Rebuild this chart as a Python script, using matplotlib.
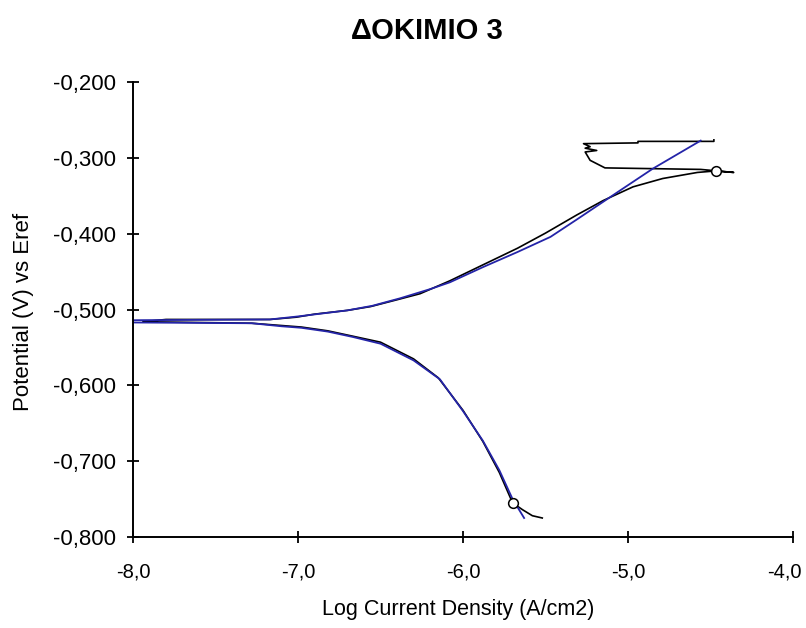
import matplotlib.pyplot as plt
import matplotlib.transforms as mtransforms
from matplotlib.ticker import FuncFormatter

plt.rcParams['font.family'] = ['Liberation Sans', 'DejaVu Sans']

# measured curve (black): cathodic branch from its lower end up to Ecorr,
# then anodic branch out to the right, then the small loop at the top
cath_logi = [-5.52, -5.58, -5.64, -5.70, -5.78, -5.88, -6.00, -6.15, -6.30,
             -6.50, -6.67, -6.82, -6.98, -7.10, -7.28, -7.94]
cath_e = [-0.775, -0.772, -0.764, -0.755, -0.715, -0.674, -0.633, -0.590, -0.565,
          -0.543, -0.535, -0.528, -0.523, -0.521, -0.518, -0.516]
anod_logi = [-7.80, -7.17, -7.01, -6.90, -6.70, -6.56, -6.40, -6.26, -6.08,
             -5.88, -5.67, -5.50, -5.31, -5.15, -4.97, -4.79, -4.58, -4.47, -4.36]
anod_e = [-0.513, -0.513, -0.510, -0.506, -0.501, -0.496, -0.487, -0.479, -0.462,
          -0.441, -0.419, -0.399, -0.375, -0.356, -0.338, -0.327, -0.319, -0.317, -0.319]
loop_logi = [-4.56, -5.14, -5.23, -5.26, -5.19, -5.26, -5.23, -5.27, -4.94, -4.94, -4.48, -4.48]
loop_e = [-0.315, -0.313, -0.303, -0.292, -0.290, -0.287, -0.285, -0.281, -0.280, -0.278, -0.278, -0.276]

# fitted curve (blue)
fit_c_logi = [-8.0, -7.28, -7.10, -6.98, -6.82, -6.67, -6.50, -6.30, -6.14,
              -6.00, -5.88, -5.78, -5.70, -5.63]
fit_c_e = [-0.517, -0.518, -0.522, -0.524, -0.529, -0.536, -0.545, -0.567, -0.592,
           -0.634, -0.673, -0.712, -0.750, -0.775]
fit_a_logi = [-8.0, -7.17, -7.00, -6.85, -6.70, -6.55, -6.38, -6.20, -6.08,
              -5.88, -5.67, -5.47, -5.31, -5.05, -4.85, -4.56]
fit_a_e = [-0.514, -0.513, -0.509, -0.505, -0.501, -0.495, -0.485, -0.473, -0.464,
           -0.444, -0.424, -0.404, -0.381, -0.343, -0.314, -0.277]

# open circle markers
mark_logi = [-5.70, -4.47]
mark_e = [-0.755, -0.317]

x_ticks = [-8, -7, -6, -5, -4]
y_ticks = [-0.8, -0.7, -0.6, -0.5, -0.4, -0.3, -0.2]

fig = plt.figure(figsize=(8.06, 6.28), dpi=100)
ax = fig.add_axes([0.165, 0.145, 0.819, 0.724])

ax.plot(cath_logi + anod_logi + loop_logi, cath_e + anod_e + loop_e,
        color='black', lw=1.2)
ax.plot(fit_c_logi, fit_c_e, color='#2424a8', lw=1.3)
ax.plot(fit_a_logi, fit_a_e, color='#2424a8', lw=1.3)
ax.plot(mark_logi, mark_e, 'o', ms=7, mfc='white', mec='black', mew=1.1)

ax.set_xlim(-8, -4)
ax.set_ylim(-0.8, -0.2)
ax.set_xticks(x_ticks)
ax.set_yticks(y_ticks)
ax.xaxis.set_major_formatter(FuncFormatter(lambda v, p: f'{v:.1f}'.replace('.', ',')))
ax.yaxis.set_major_formatter(FuncFormatter(lambda v, p: f'{v:.3f}'.replace('.', ',')))
ax.tick_params(direction='inout', length=9, width=1.3)
ax.tick_params(axis='x', labelsize=14.5, pad=14)
ax.tick_params(axis='y', labelsize=16, pad=8)

# last x label sits right at the figure edge; nudge it a little inward
last = ax.get_xticklabels()[-1]
last.set_transform(last.get_transform() +
                   mtransforms.ScaledTranslation(-6 / 72, 0, fig.dpi_scale_trans))

ax.spines['top'].set_visible(False)
ax.spines['right'].set_visible(False)
ax.spines['left'].set_linewidth(1.4)
ax.spines['bottom'].set_linewidth(1.4)

fig.text(0.53, 0.951, 'ΔΟΚΙΜΙΟ 3', ha='center', va='center',
         fontsize=21, fontweight='bold')
fig.text(0.568, 0.029, 'Log Current Density (A/cm2)', ha='center', va='center',
         fontsize=15.5)
fig.text(0.029, 0.503, 'Potential (V) vs Eref', ha='center', va='center',
         rotation=90, fontsize=16)

fig.savefig('out.png', dpi=100)
